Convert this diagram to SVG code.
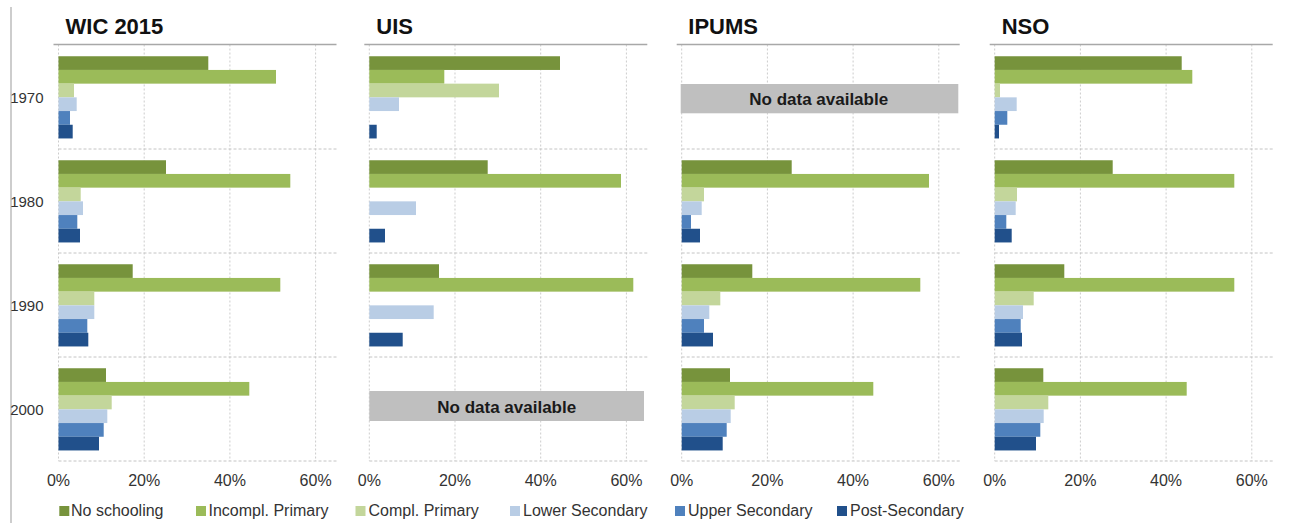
<svg xmlns="http://www.w3.org/2000/svg" width="1301" height="523" viewBox="0 0 1301 523">
<style>
.c1{fill:#77933c}.c2{fill:#9bbb59}.c3{fill:#c3d69b}.c4{fill:#b9cde5}.c5{fill:#4f81bd}.c6{fill:#21508b}
text{font-family:"Liberation Sans",Arial,sans-serif}
.title{font-weight:bold;font-size:22px;fill:#111}
.tick{font-size:16px;fill:#333;text-anchor:middle}
.year{font-size:15px;fill:#333;text-anchor:end}
.leg{font-size:16px;fill:#333}
.nd{fill:#bfbfbf}
.ndt{font-weight:bold;font-size:17px;fill:#1a1a1a;text-anchor:middle}
.vgrid{stroke:#cccccc;stroke-width:1;stroke-dasharray:2 2;fill:none}
.hgrid{stroke:#c4c4c4;stroke-width:1;stroke-dasharray:3 2;fill:none}
.axis{stroke:#a8a8a8;stroke-width:1.3;fill:none}
.frame{stroke:#bdbdbd;stroke-width:1.5;fill:none}
</style>
<defs>
<g id="grid">
<path class="vgrid" d="M0,44.5V461M85.7,44.5V461M171.4,44.5V461M257.1,44.5V461"/>
<path class="hgrid" d="M0,149H278M0,253H278M0,357H278M0,461H278"/>
<path class="axis" d="M-5,44.5H278"/>
</g>
<g id="ticks">
<text class="tick" x="0" y="486">0%</text>
<text class="tick" x="85.7" y="486">20%</text>
<text class="tick" x="171.4" y="486">40%</text>
<text class="tick" x="257.1" y="486">60%</text>
</g>
</defs>
<rect x="0" y="0" width="1301" height="523" fill="#ffffff"/>
<path class="frame" d="M11,7V523"/>
<g id="years">
<text class="year" x="43.5" y="103">1970</text>
<text class="year" x="43.5" y="207">1980</text>
<text class="year" x="43.5" y="311">1990</text>
<text class="year" x="43.5" y="415">2000</text>
</g>
<g id="panel-wic" transform="translate(58.5,0)">
<use href="#grid"/>
<text class="title" x="7" y="34">WIC 2015</text>
<g transform="translate(0,45)">
<rect class="c1" x="0" y="11.25" width="149.8" height="13.7"/>
<rect class="c2" x="0" y="24.95" width="217.5" height="13.7"/>
<rect class="c3" x="0" y="38.65" width="15.5" height="13.7"/>
<rect class="c4" x="0" y="52.35" width="18.2" height="13.7"/>
<rect class="c5" x="0" y="66.05" width="11.5" height="13.7"/>
<rect class="c6" x="0" y="79.75" width="14.2" height="13.7"/>
</g>
<g transform="translate(0,149)">
<rect class="c1" x="0" y="11.25" width="107.5" height="13.7"/>
<rect class="c2" x="0" y="24.95" width="231.8" height="13.7"/>
<rect class="c3" x="0" y="38.65" width="22.2" height="13.7"/>
<rect class="c4" x="0" y="52.35" width="24.5" height="13.7"/>
<rect class="c5" x="0" y="66.05" width="18.8" height="13.7"/>
<rect class="c6" x="0" y="79.75" width="21.5" height="13.7"/>
</g>
<g transform="translate(0,253)">
<rect class="c1" x="0" y="11.25" width="74.2" height="13.7"/>
<rect class="c2" x="0" y="24.95" width="221.8" height="13.7"/>
<rect class="c3" x="0" y="38.65" width="35.8" height="13.7"/>
<rect class="c4" x="0" y="52.35" width="35.8" height="13.7"/>
<rect class="c5" x="0" y="66.05" width="28.8" height="13.7"/>
<rect class="c6" x="0" y="79.75" width="29.8" height="13.7"/>
</g>
<g transform="translate(0,357)">
<rect class="c1" x="0" y="11.25" width="47.5" height="13.7"/>
<rect class="c2" x="0" y="24.95" width="190.8" height="13.7"/>
<rect class="c3" x="0" y="38.65" width="53.2" height="13.7"/>
<rect class="c4" x="0" y="52.35" width="48.8" height="13.7"/>
<rect class="c5" x="0" y="66.05" width="45.2" height="13.7"/>
<rect class="c6" x="0" y="79.75" width="40.5" height="13.7"/>
</g>
<use href="#ticks"/>
</g>
<g id="panel-uis" transform="translate(369.3,0)">
<use href="#grid"/>
<text class="title" x="7" y="34">UIS</text>
<g transform="translate(0,45)">
<rect class="c1" x="0" y="11.25" width="190.7" height="13.7"/>
<rect class="c2" x="0" y="24.95" width="75" height="13.7"/>
<rect class="c3" x="0" y="38.65" width="129.7" height="13.7"/>
<rect class="c4" x="0" y="52.35" width="29.7" height="13.7"/>
<rect class="c6" x="0" y="79.75" width="7.4" height="13.7"/>
</g>
<g transform="translate(0,149)">
<rect class="c1" x="0" y="11.25" width="118.4" height="13.7"/>
<rect class="c2" x="0" y="24.95" width="251.7" height="13.7"/>
<rect class="c4" x="0" y="52.35" width="46.7" height="13.7"/>
<rect class="c6" x="0" y="79.75" width="15.7" height="13.7"/>
</g>
<g transform="translate(0,253)">
<rect class="c1" x="0" y="11.25" width="69.7" height="13.7"/>
<rect class="c2" x="0" y="24.95" width="264" height="13.7"/>
<rect class="c4" x="0" y="52.35" width="64.4" height="13.7"/>
<rect class="c6" x="0" y="79.75" width="33.4" height="13.7"/>
</g>
<g id="uis-nodata">
<rect class="nd" x="0" y="391" width="274.7" height="30"/>
<text class="ndt" x="137.4" y="413">No data available</text>
</g>
<use href="#ticks"/>
</g>
<g id="panel-ipums" transform="translate(681.7,0)">
<use href="#grid"/>
<text class="title" x="6.6" y="34">IPUMS</text>
<g id="ipums-nodata">
<rect class="nd" x="-1" y="84" width="277.6" height="29.3"/>
<text class="ndt" x="137" y="105">No data available</text>
</g>
<g transform="translate(0,149)">
<rect class="c1" x="0" y="11.25" width="110" height="13.7"/>
<rect class="c2" x="0" y="24.95" width="247.3" height="13.7"/>
<rect class="c3" x="0" y="38.65" width="22.3" height="13.7"/>
<rect class="c4" x="0" y="52.35" width="20" height="13.7"/>
<rect class="c5" x="0" y="66.05" width="9.3" height="13.7"/>
<rect class="c6" x="0" y="79.75" width="18.3" height="13.7"/>
</g>
<g transform="translate(0,253)">
<rect class="c1" x="0" y="11.25" width="70.6" height="13.7"/>
<rect class="c2" x="0" y="24.95" width="238.6" height="13.7"/>
<rect class="c3" x="0" y="38.65" width="38.6" height="13.7"/>
<rect class="c4" x="0" y="52.35" width="27.6" height="13.7"/>
<rect class="c5" x="0" y="66.05" width="22.3" height="13.7"/>
<rect class="c6" x="0" y="79.75" width="31.3" height="13.7"/>
</g>
<g transform="translate(0,357)">
<rect class="c1" x="0" y="11.25" width="48.3" height="13.7"/>
<rect class="c2" x="0" y="24.95" width="191.6" height="13.7"/>
<rect class="c3" x="0" y="38.65" width="53" height="13.7"/>
<rect class="c4" x="0" y="52.35" width="49" height="13.7"/>
<rect class="c5" x="0" y="66.05" width="45" height="13.7"/>
<rect class="c6" x="0" y="79.75" width="41" height="13.7"/>
</g>
<use href="#ticks"/>
</g>
<g id="panel-nso" transform="translate(994.7,0)">
<use href="#grid"/>
<text class="title" x="7" y="34">NSO</text>
<g transform="translate(0,45)">
<rect class="c1" x="0" y="11.25" width="187" height="13.7"/>
<rect class="c2" x="0" y="24.95" width="197.6" height="13.7"/>
<rect class="c3" x="0" y="38.65" width="5.3" height="13.7"/>
<rect class="c4" x="0" y="52.35" width="22" height="13.7"/>
<rect class="c5" x="0" y="66.05" width="12.6" height="13.7"/>
<rect class="c6" x="0" y="79.75" width="4.3" height="13.7"/>
</g>
<g transform="translate(0,149)">
<rect class="c1" x="0" y="11.25" width="118" height="13.7"/>
<rect class="c2" x="0" y="24.95" width="239.6" height="13.7"/>
<rect class="c3" x="0" y="38.65" width="22.3" height="13.7"/>
<rect class="c4" x="0" y="52.35" width="21" height="13.7"/>
<rect class="c5" x="0" y="66.05" width="11.6" height="13.7"/>
<rect class="c6" x="0" y="79.75" width="17" height="13.7"/>
</g>
<g transform="translate(0,253)">
<rect class="c1" x="0" y="11.25" width="69.6" height="13.7"/>
<rect class="c2" x="0" y="24.95" width="239.6" height="13.7"/>
<rect class="c3" x="0" y="38.65" width="39" height="13.7"/>
<rect class="c4" x="0" y="52.35" width="28.3" height="13.7"/>
<rect class="c5" x="0" y="66.05" width="26" height="13.7"/>
<rect class="c6" x="0" y="79.75" width="27.3" height="13.7"/>
</g>
<g transform="translate(0,357)">
<rect class="c1" x="0" y="11.25" width="48.6" height="13.7"/>
<rect class="c2" x="0" y="24.95" width="192" height="13.7"/>
<rect class="c3" x="0" y="38.65" width="53.6" height="13.7"/>
<rect class="c4" x="0" y="52.35" width="49" height="13.7"/>
<rect class="c5" x="0" y="66.05" width="45.6" height="13.7"/>
<rect class="c6" x="0" y="79.75" width="41.3" height="13.7"/>
</g>
<use href="#ticks"/>
</g>
<g id="legend">
<rect class="c1" x="59.3" y="506" width="10" height="10"/>
<text class="leg" x="71" y="515.5">No schooling</text>
<rect class="c2" x="196" y="506" width="10" height="10"/>
<text class="leg" x="208.5" y="515.5">Incompl. Primary</text>
<rect class="c3" x="355.5" y="506" width="10" height="10"/>
<text class="leg" x="368.5" y="515.5">Compl. Primary</text>
<rect class="c4" x="510" y="506" width="10" height="10"/>
<text class="leg" x="523" y="515.5">Lower Secondary</text>
<rect class="c5" x="675" y="506" width="10" height="10"/>
<text class="leg" x="688" y="515.5">Upper Secondary</text>
<rect class="c6" x="837" y="506" width="10" height="10"/>
<text class="leg" x="850" y="515.5">Post-Secondary</text>
</g>
</svg>
